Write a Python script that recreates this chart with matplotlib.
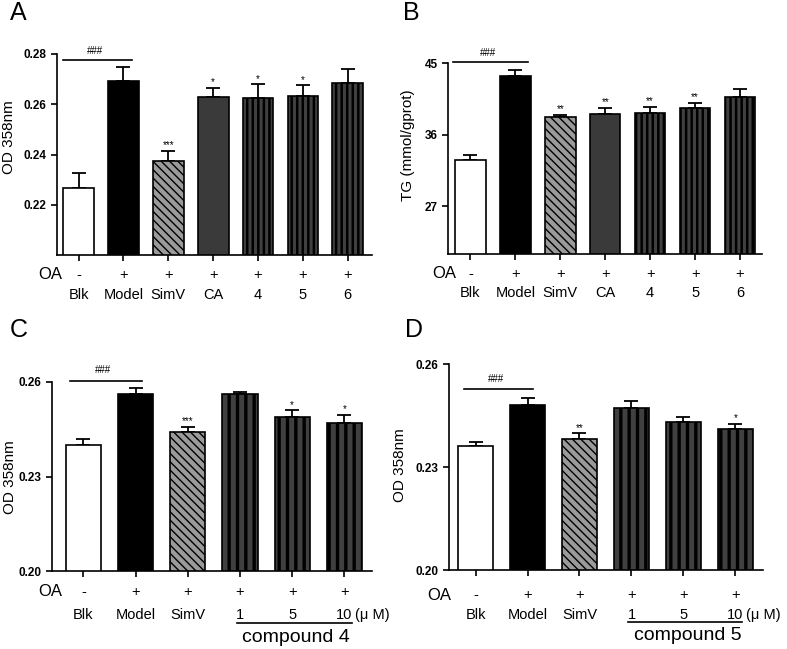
import numpy as np
import matplotlib.pyplot as plt
import matplotlib.transforms as mtransforms

plt.rcParams['font.family'] = ['Liberation Sans', 'DejaVu Sans']

# ---- data ----
ab_names = ['Blk', 'Model', 'SimV', 'CA', '4', '5', '6']
ab_oa = ['-', '+', '+', '+', '+', '+', '+']

a_mean = [0.2268, 0.2693, 0.2376, 0.2628, 0.2623, 0.2632, 0.2685]
a_err = [0.0057, 0.0054, 0.0039, 0.0036, 0.0056, 0.0043, 0.0056]
a_stars = ['', '', '***', '*', '*', '*', '']

b_mean = [32.86, 43.33, 38.26, 38.64, 38.68, 39.35, 40.73]
b_err = [0.63, 0.83, 0.25, 0.71, 0.83, 0.67, 0.97]
b_stars = ['', '', '**', '**', '**', '**', '']

cd_names = ['Blk', 'Model', 'SimV', '1', '5', '10']
cd_oa = ['-', '+', '+', '+', '+', '+']

c_mean = [0.2399, 0.2561, 0.2441, 0.2561, 0.2490, 0.2470]
c_err = [0.0020, 0.0020, 0.0016, 0.0007, 0.0020, 0.0025]
c_stars = ['', '', '***', '', '*', '*']

d_mean = [0.2360, 0.2481, 0.2381, 0.2471, 0.2430, 0.2411]
d_err = [0.0013, 0.0021, 0.0017, 0.0022, 0.0015, 0.0015]
d_stars = ['', '', '**', '', '', '*']

PX = 0.72  # points per pixel at dpi 100


def draw_panel(ax, means, errs, stars, names, oa, faces, hatches, hlw,
               width, xlim, ylim, yticks, ytl, ylabel, ylab_xy,
               sig, oa_off, name_off, oa_x):
    x = np.arange(len(means))
    bars = ax.bar(x, means, width=width, color=faces, edgecolor='black',
                  linewidth=1.2, zorder=2)
    for b, h, lw in zip(bars, hatches, hlw):
        if h:
            b.set_hatch(h)
            if hasattr(b, 'set_hatch_linewidth'):
                b.set_hatch_linewidth(lw)
    ax.errorbar(x, means, yerr=[np.zeros(len(errs)), errs], fmt='none',
                ecolor='black', elinewidth=1.3, capsize=5, capthick=1.3, zorder=1)
    for xi, m, e, s in zip(x, means, errs, stars):
        if s:
            ax.annotate(s, (xi, m + e), xytext=(0, 0.5), textcoords='offset points',
                        ha='center', va='bottom', fontsize=7)

    ax.set_xlim(*xlim)
    ax.set_ylim(*ylim)
    ax.set_yticks(yticks)
    ax.set_yticklabels(ytl, fontsize=8.5, fontweight='bold')
    ax.set_xticks(x)
    ax.set_xticklabels([''] * len(x))
    ax.tick_params(direction='out', length=4, width=1.2)
    for sp in ['top', 'right']:
        ax.spines[sp].set_visible(False)
    for sp in ['left', 'bottom']:
        ax.spines[sp].set_linewidth(1.2)
    ax.set_ylabel(ylabel, fontsize=11)
    ax.yaxis.set_label_coords(*ylab_xy)

    # OA row and group names below the axis
    for xi, o, n in zip(x, oa, names):
        ax.annotate(o, (xi, 0), xycoords=('data', 'axes fraction'),
                    xytext=(0, oa_off), textcoords='offset points',
                    ha='center', va='center', fontsize=10.5)
        ax.annotate(n, (xi, 0), xycoords=('data', 'axes fraction'),
                    xytext=(0, name_off), textcoords='offset points',
                    ha='center', va='center', fontsize=10.5)
    ax.annotate('OA', (oa_x, 0), xycoords=('data', 'axes fraction'),
                xytext=(0, oa_off), textcoords='offset points',
                ha='right', va='center', fontsize=12)

    # ### bracket
    x0, x1, yl, yt = sig
    ax.plot([x0, x1], [yl, yl], color='black', lw=1.2, clip_on=False)
    ax.text((x0 + x1) / 2 - 0.05, yt, '###', ha='center', va='center', fontsize=7)


def compound_label(ax, fig, text, x0, x1, line_off, text_off, xc):
    trans = mtransforms.blended_transform_factory(ax.transData, ax.transAxes)
    tline = mtransforms.offset_copy(trans, fig=fig, y=line_off, units='points')
    ax.plot([x0, x1], [0, 0], transform=tline, color='black', lw=1.2, clip_on=False)
    ax.annotate(text, (xc, 0), xycoords=('data', 'axes fraction'),
                xytext=(0, text_off), textcoords='offset points',
                ha='center', va='center', fontsize=14)


fig = plt.figure(figsize=(7.87, 6.49), dpi=100)
W, H = 787.0, 649.0


def axes_px(left, right, top, bottom):
    return fig.add_axes([left / W, 1 - bottom / H, (right - left) / W, (bottom - top) / H])


ab_faces = ['white', 'black', '#9a9a9a', '#3a3a3a', '#404040', '#404040', '#404040']
ab_hatch = [None, None, '\\\\\\\\', None, '|||', '|||', '|||']
ab_hlw = [1, 1, 1.0, 1, 1.8, 1.8, 1.8]
cd_faces = ['white', 'black', '#9a9a9a', '#404040', '#404040', '#404040']
cd_hatch = [None, None, '\\\\\\\\', '||', '||', '||']
cd_hlw = [1, 1, 1.0, 2.4, 2.4, 2.4]

# label x positions: right edge of the rotated label, in axes fraction
axA = axes_px(57, 372, 54, 255)
draw_panel(axA, a_mean, a_err, a_stars, ab_names, ab_oa, ab_faces, ab_hatch, ab_hlw,
           0.685, (-0.48, 6.54), (0.20, 0.28), [0.22, 0.24, 0.26, 0.28],
           ['0.22', '0.24', '0.26', '0.28'], 'OD 358nm', ((16 - 57) / 315, 0.587),
           (-0.34, 1.19, 0.2777, 0.2811), -20 * PX, -40 * PX, -0.36)

axB = axes_px(448, 762, 63, 254)
draw_panel(axB, b_mean, b_err, b_stars, ab_names, ab_oa, ab_faces, ab_hatch, ab_hlw,
           0.68, (-0.5, 6.49), (21, 45), [27, 36, 45], ['27', '36', '45'],
           'TG (mmol/gprot)', ((415 - 448) / 314, 0.57),
           (-0.39, 1.27, 45.08, 46.25), -20 * PX, -39 * PX, -0.31)

axC = axes_px(52, 372, 382, 571)
draw_panel(axC, c_mean, c_err, c_stars, cd_names, cd_oa, cd_faces, cd_hatch, cd_hlw,
           0.675, (-0.6, 5.53), (0.20, 0.26), [0.20, 0.23, 0.26],
           ['0.20', '0.23', '0.26'], 'OD 358nm', ((17 - 52) / 320, 0.497),
           (-0.25, 1.12, 0.2602, 0.2637), -21 * PX, -44 * PX, -0.40)
axC.annotate('(\u03bc M)', (5.2, 0), xycoords=('data', 'axes fraction'),
             xytext=(0, -44 * PX), textcoords='offset points',
             ha='left', va='center', fontsize=10.5)
compound_label(axC, fig, 'compound 4', 2.94, 5.15, -52 * PX, -66 * PX, 4.08)

axD = axes_px(449, 763, 364, 570)
draw_panel(axD, d_mean, d_err, d_stars, cd_names, cd_oa, cd_faces, cd_hatch, cd_hlw,
           0.67, (-0.51, 5.53), (0.20, 0.26), [0.20, 0.23, 0.26],
           ['0.20', '0.23', '0.26'], 'OD 358nm', ((407 - 449) / 314, 0.51),
           (-0.22, 1.11, 0.2528, 0.2556), -25 * PX, -45 * PX, -0.46)
axD.annotate('(\u03bc M)', (5.2, 0), xycoords=('data', 'axes fraction'),
             xytext=(0, -45 * PX), textcoords='offset points',
             ha='left', va='center', fontsize=10.5)
compound_label(axD, fig, 'compound 5', 2.93, 5.12, -52 * PX, -66 * PX, 4.08)

# panel letters
for lx, ly, lab in [(10, 20, 'A'), (403, 20, 'B'), (10, 337, 'C'), (405, 337, 'D')]:
    fig.text(lx / W, 1 - ly / H, lab, fontsize=18, va='baseline', ha='left')

fig.savefig('out.png', dpi=100)
